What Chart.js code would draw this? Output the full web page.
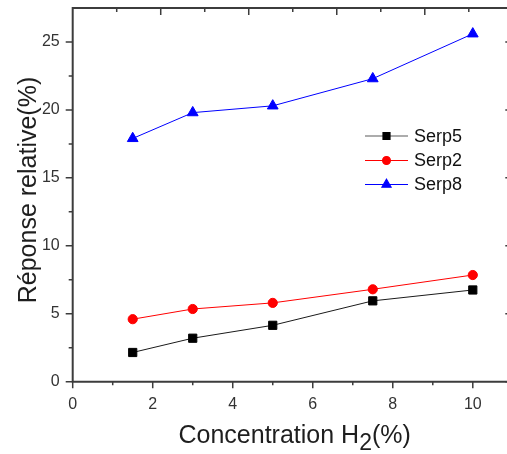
<!DOCTYPE html>
<html>
<head>
<meta charset="utf-8">
<script src="https://cdn.jsdelivr.net/npm/chart.js@4.4.1/dist/chart.umd.min.js"></script>
<style>
  html, body { margin: 0; padding: 0; background: #fff; overflow: hidden; }
  #wrap { position: relative; width: 507px; height: 454px; overflow: hidden; }
  #wrap canvas { position: absolute; left: 0; top: 0; }
</style>
</head>
<body>
<div id="wrap"><canvas id="chart" width="520" height="454"></canvas></div>
<script>
// H2 concentration (%) on x
const concentrations = [1.5, 3, 5, 7.5, 10];
// relative response (%) per sample
const serp5 = [2.15, 3.2, 4.15, 5.95, 6.75];
const serp2 = [4.6, 5.35, 5.8, 6.8, 7.85];
const serp8 = [17.9, 19.8, 20.3, 22.3, 25.6];

const xTicks = [0, 2, 4, 6, 8, 10];
const xMinor = [1, 3, 5, 7, 9];
const yTicks = [0, 5, 10, 15, 20, 25];
const yMinor = [2.5, 7.5, 12.5, 17.5, 22.5];

const FONT = "Arial, 'Liberation Sans', sans-serif";
const AXIS = '#3c3c3c';

const toPoints = (ys) => concentrations.map((x, i) => ({ x, y: ys[i] }));

const noPad = (s) => {
    s.paddingTop = 0;
    s.paddingBottom = 0;
    s.paddingLeft = 0;
    s.paddingRight = 0;
};

// frame, mirrored ticks, titles and the in-plot legend
const frame = {
    id: 'frame',
    afterDraw(chart) {
        const { ctx, chartArea: a, scales: { x, y } } = chart;
        const seg = (x1, y1, x2, y2) => { ctx.moveTo(x1, y1); ctx.lineTo(x2, y2); };
        ctx.save();

        ctx.strokeStyle = AXIS;
        ctx.lineWidth = 2;
        ctx.beginPath();
        seg(a.left, a.bottom, a.right, a.bottom);
        seg(a.left, a.top, a.right, a.top);
        seg(a.left, a.top - 1, a.left, a.bottom + 1);
        seg(a.right, a.top - 1, a.right, a.bottom + 1);
        ctx.stroke();

        ctx.lineWidth = 1.5;
        ctx.beginPath();
        xTicks.forEach(v => { const p = x.getPixelForValue(v); seg(p, a.bottom, p, a.bottom + 6.5); });
        xMinor.forEach(v => { const p = x.getPixelForValue(v); seg(p, a.bottom, p, a.bottom + 3.5); });
        yTicks.forEach(v => {
            const p = y.getPixelForValue(v);
            seg(a.left - 7, p, a.left, p);
            seg(a.right - 7.5, p, a.right, p);
        });
        yMinor.forEach(v => {
            const p = y.getPixelForValue(v);
            seg(a.left - 4, p, a.left, p);
            seg(a.right - 4, p, a.right, p);
        });
        // top axis ticks (inward)
        for (let i = 1; i < 10; i++) {
            const p = a.left + (a.right - a.left) * i / 10;
            seg(p, a.top, p, a.top + (i % 2 ? 4 : 7));
        }
        ctx.stroke();

        // axis titles
        ctx.fillStyle = '#1e1e1e';
        ctx.textBaseline = 'alphabetic';
        ctx.textAlign = 'left';
        ctx.font = `25px ${FONT}`;
        let tx = 178.5;
        const main = 'Concentration H';
        ctx.fillText(main, tx, 443.3);
        tx += ctx.measureText(main).width;
        ctx.font = `23px ${FONT}`;
        ctx.fillText('2', tx, 449.5);
        tx += ctx.measureText('2').width;
        ctx.font = `25px ${FONT}`;
        ctx.fillText('(%)', tx, 443.3);

        ctx.save();
        ctx.translate(36, 190);
        ctx.rotate(-Math.PI / 2);
        ctx.textAlign = 'center';
        ctx.fillText('Réponse relative(%)', 0, 0);
        ctx.restore();

        // legend
        const rows = [136, 160.5, 184.5];
        ctx.font = `18px ${FONT}`;
        ctx.textBaseline = 'middle';
        chart.data.datasets.forEach((ds, i) => {
            const ly = rows[i];
            ctx.strokeStyle = ds.legendLine;
            ctx.lineWidth = 1.2;
            ctx.beginPath();
            seg(365, ly, 408, ly);
            ctx.stroke();
            ctx.fillStyle = ds.pointBackgroundColor;
            ctx.strokeStyle = ds.pointBorderColor;
            Chart.helpers.drawPoint(ctx, {
                pointStyle: ds.pointStyle,
                radius: ds.pointRadius * 0.85,
                borderWidth: 1
            }, 386.5, ly);
            ctx.fillStyle = '#111';
            ctx.fillText(ds.label, 414, ly + 1);
        });

        ctx.restore();
    }
};

new Chart(document.getElementById('chart'), {
    type: 'line',
    data: {
        datasets: [
            {
                label: 'Serp5',
                data: toPoints(serp5),
                borderColor: '#1a1a1a',
                legendLine: '#5a5a5a',
                borderWidth: 1,
                pointStyle: 'rect',
                pointRadius: 5.8,
                pointBackgroundColor: '#000',
                pointBorderColor: '#000',
                pointBorderWidth: 1
            },
            {
                label: 'Serp2',
                data: toPoints(serp2),
                borderColor: '#ff0000',
                legendLine: '#ff0000',
                borderWidth: 1,
                pointStyle: 'circle',
                pointRadius: 4.6,
                pointBackgroundColor: '#ff0000',
                pointBorderColor: '#ff0000',
                pointBorderWidth: 1
            },
            {
                label: 'Serp8',
                data: toPoints(serp8),
                borderColor: '#0000ff',
                legendLine: '#0000ff',
                borderWidth: 1,
                pointStyle: 'triangle',
                pointRadius: 6.2,
                pointBackgroundColor: '#0000ff',
                pointBorderColor: '#0000ff',
                pointBorderWidth: 1
            }
        ]
    },
    options: {
        responsive: false,
        animation: false,
        clip: false,
        layout: { padding: { top: 8, right: 6, left: 0, bottom: 0 } },
        plugins: {
            legend: { display: false },
            tooltip: { enabled: false }
        },
        scales: {
            x: {
                type: 'linear',
                min: 0,
                max: 11,
                grid: { display: false },
                border: { display: false },
                afterBuildTicks: s => { s.ticks = xTicks.map(value => ({ value })); },
                afterFit: s => { s.height = 72.3; noPad(s); },
                ticks: {
                    color: '#333',
                    font: { family: FONT, size: 16 },
                    padding: 5,
                    maxRotation: 0
                }
            },
            y: {
                min: 0,
                max: 27.5,
                grid: { display: false },
                border: { display: false },
                afterBuildTicks: s => { s.ticks = yTicks.map(value => ({ value })); },
                afterFit: s => { s.width = 72.7; noPad(s); },
                ticks: {
                    color: '#333',
                    font: { family: FONT, size: 16 },
                    padding: 5
                }
            }
        }
    },
    plugins: [frame]
});
</script>
</body>
</html>
